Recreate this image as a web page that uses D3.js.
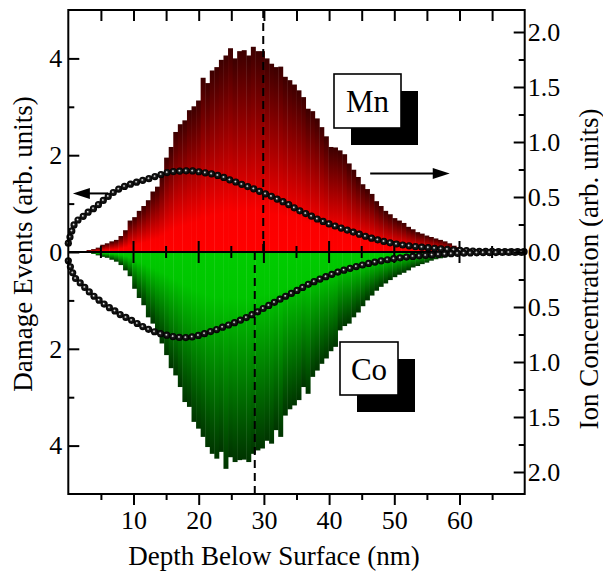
<!DOCTYPE html>
<html><head><meta charset="utf-8">
<script src="https://cdn.jsdelivr.net/npm/d3@7"></script>
<style>body{margin:0;background:#fff}svg{display:block}</style>
</head><body>
<svg id="chart" width="603" height="572"></svg>
<script>
// ---------- data ----------
const binWidth = 0.7; // nm per histogram bin (100 bins over 70 nm)
const mnDamage = [0,0,0,0.02,0.04,0.06,0.09,0.15,0.18,0.22,
  0.25,0.33,0.45,0.65,0.72,0.85,0.95,1.07,1.25,1.35,
  1.6,1.95,2.17,2.48,2.64,2.72,2.93,3.01,3.13,3.6,
  3.49,3.75,3.82,3.97,4.06,4.21,4.0,4.15,4.17,4.06,
  4.24,4.15,4.15,4.0,3.89,3.82,3.83,3.62,3.55,3.46,
  3.34,3.2,2.96,2.91,2.76,2.58,2.39,2.17,2.16,2.1,
  2.02,1.83,1.7,1.55,1.4,1.3,1.2,1.05,0.95,0.85,
  0.78,0.7,0.65,0.6,0.52,0.47,0.41,0.38,0.34,0.31,
  0.28,0.25,0.22,0.18,0.13,0.1,0.07,0.05,0.03,0.02,
  0.01,0,0,0,0,0,0,0,0,0];
const coDamage = [0,0,0,0,0.02,0.04,0.07,0.1,0.12,0.16,
  0.2,0.27,0.38,0.5,0.76,0.95,1.1,1.35,1.48,1.7,
  1.89,2.13,2.4,2.55,2.79,3.1,3.2,3.51,3.65,3.82,
  4.03,4.17,4.27,4.13,4.48,4.24,4.34,4.3,4.29,4.34,
  4.17,4.1,4.06,3.9,3.96,3.68,3.82,3.38,3.25,3.17,
  3.06,2.79,2.93,2.58,2.45,2.31,2.2,2.05,1.96,1.62,
  1.53,1.48,1.35,1.25,1.12,1.0,0.9,0.8,0.72,0.65,
  0.58,0.52,0.47,0.43,0.38,0.32,0.29,0.25,0.22,0.18,
  0.15,0.13,0.11,0.09,0.07,0.05,0.04,0.03,0.02,0.01,
  0,0,0,0,0,0,0,0,0,0];
const concDepth = [0,1,2,3,4,5,6,7,8,9,10,11,12,13,14,15,16,17,18,19,20,
  21,22,23,24,25,26,27,28,29,30,31,32,33,34,35,36,37,38,39,40,
  41,42,43,44,45,46,47,48,49,50,51,52,53,54,55,56,57,58,59,60,
  61,62,63,64,65,66,67,68,69,70];
const mnConc = [0.08,0.26,0.31,0.36,0.40,0.45,0.50,0.545,0.58,0.605,0.625,
  0.645,0.66,0.68,0.70,0.72,0.73,0.735,0.738,0.737,0.73,
  0.72,0.71,0.695,0.675,0.65,0.63,0.605,0.585,0.56,0.535,
  0.51,0.482,0.455,0.425,0.39,0.36,0.335,0.305,0.28,0.255,
  0.235,0.215,0.195,0.175,0.155,0.135,0.118,0.102,0.088,0.076,
  0.066,0.058,0.051,0.045,0.04,0.035,0.03,0.025,0.02,0.016,
  0.012,0.009,0.007,0.006,0.005,0.004,0.004,0.003,0.003,0.003];
const coConc = [0.08,0.23,0.29,0.35,0.405,0.45,0.495,0.53,0.57,0.60,0.63,
  0.665,0.695,0.72,0.74,0.755,0.768,0.776,0.778,0.772,0.758,
  0.74,0.72,0.70,0.675,0.655,0.63,0.605,0.575,0.545,0.51,
  0.478,0.445,0.412,0.383,0.352,0.32,0.288,0.262,0.236,0.213,
  0.19,0.17,0.152,0.135,0.12,0.105,0.092,0.08,0.07,0.06,
  0.052,0.045,0.039,0.034,0.03,0.026,0.022,0.018,0.015,0.012,
  0.01,0.008,0.007,0.006,0.005,0.005,0.004,0.004,0.004,0.004];
const xMajorTicks = [10,20,30,40,50,60];
const xMinorTicks = [5,15,25,35,45,55,65];
const xAllTicks = [5,10,15,20,25,30,35,40,45,50,55,60,65];
const leftMajorTicks = [-4,-2,0,2,4];
const leftMinorTicks = [-3,-1,1,3];
const rightMajorTicks = [-2,-1.5,-1,-0.5,0,0.5,1,1.5,2];
const rightMinorTicks = [-1.75,-1.25,-0.75,-0.25,0.25,0.75,1.25,1.75];
const meanDepths = {Mn: 29.9, Co: 28.6};
const elementLabels = ["Mn","Co"];
const xTitle = "Depth Below Surface (nm)";
const leftTitle = "Damage Events (arb. units)";
const rightTitle = "Ion Concentration (arb. units)";

// ---------- layout ----------
const L = 68.3, R = 524.7, T = 10, B = 494;
const FONT = '"Liberation Serif"';
const svg = d3.select("#chart");

const x = d3.scaleLinear().domain([0,70]).range([L,R]);
const yL = d3.scaleLinear().domain([-5,5]).range([B,T]);
const yR = d3.scaleLinear().domain([-2.2,2.2]).range([B,T]);

const defs = svg.append("defs");
const rg = defs.append("linearGradient").attr("id","redGrad").attr("x1",0).attr("y1",1).attr("x2",0).attr("y2",0);
rg.append("stop").attr("offset",0).attr("stop-color","#ff0000");
rg.append("stop").attr("offset",0.2).attr("stop-color","#fa0000");
rg.append("stop").attr("offset",1).attr("stop-color","#3c0000");
const gg = defs.append("linearGradient").attr("id","greenGrad").attr("x1",0).attr("y1",0).attr("x2",0).attr("y2",1);
gg.append("stop").attr("offset",0).attr("stop-color","#00cc00");
gg.append("stop").attr("offset",0.22).attr("stop-color","#00c600");
gg.append("stop").attr("offset",1).attr("stop-color","#003400");
const ball = defs.append("radialGradient").attr("id","ball").attr("cx","0.5").attr("cy","0.5").attr("r","0.5").attr("fx","0.42").attr("fy","0.42");
ball.append("stop").attr("offset",0).attr("stop-color","#ffffff");
ball.append("stop").attr("offset",0.15).attr("stop-color","#b0b0b0");
ball.append("stop").attr("offset",0.38).attr("stop-color","#1a1a1a");
ball.append("stop").attr("offset",1).attr("stop-color","#000000");

// ---------- bars ----------
const bw = i => x((i+1)*binWidth) - x(i*binWidth);
svg.append("g").selectAll("rect").data(mnDamage.map((v,i)=>({v,i})).filter(d=>d.v>0))
  .join("rect")
  .attr("x", d=>x(d.i*binWidth)).attr("width", d=>bw(d.i)+0.4)
  .attr("y", d=>yL(d.v)).attr("height", d=>yL(0)-yL(d.v))
  .attr("fill","url(#redGrad)");
svg.append("g").selectAll("rect").data(coDamage.map((v,i)=>({v,i})).filter(d=>d.v>0))
  .join("rect")
  .attr("x", d=>x(d.i*binWidth)).attr("width", d=>bw(d.i)+0.4)
  .attr("y", yL(0)).attr("height", d=>yL(-d.v)-yL(0))
  .attr("fill","url(#greenGrad)");

// ---------- zero line with ticks ----------
svg.append("line").attr("x1",L).attr("x2",R).attr("y1",yL(0)).attr("y2",yL(0))
  .attr("stroke","#000").attr("stroke-width",2.2);
svg.append("g").selectAll("line").data(xAllTicks).join("line")
  .attr("x1",d=>x(d)).attr("x2",d=>x(d))
  .attr("y1",d=>yL(0)-(d%10===0?11:6)).attr("y2",d=>yL(0)+(d%10===0?11:6))
  .attr("stroke","#000").attr("stroke-width",2);

// ---------- dashed mean-depth lines ----------
svg.append("line").attr("x1",x(meanDepths.Mn)).attr("x2",x(meanDepths.Mn))
  .attr("y1",T).attr("y2",yL(0)).attr("stroke","#000").attr("stroke-width",2).attr("stroke-dasharray","8,5");
svg.append("line").attr("x1",x(meanDepths.Co)).attr("x2",x(meanDepths.Co))
  .attr("y1",yL(0)).attr("y2",B).attr("stroke","#000").attr("stroke-width",2).attr("stroke-dasharray","8,5");

// ---------- ion concentration curves (ball markers along the line) ----------
function ballCurve(vals, sign){
  const pts = concDepth.map((d,i)=>[x(d), yR(sign*vals[i])]);
  const path = svg.append("path").attr("d", d3.line().curve(d3.curveMonotoneX)(pts))
    .attr("fill","none").attr("stroke","none");
  const node = path.node(), len = node.getTotalLength();
  const step = 6.4, dots = [];
  for(let s=0; s<=len; s+=step){ const p=node.getPointAtLength(s); dots.push([p.x,p.y]); }
  svg.append("g").selectAll("circle").data(dots).join("circle")
    .attr("cx",d=>d[0]).attr("cy",d=>d[1]).attr("r",3.6).attr("fill","url(#ball)");
}
ballCurve(mnConc, 1);
ballCurve(coConc, -1);

// ---------- axes ----------
const fmtL = d => d3.format("d")(Math.abs(d));
const fmtR = d => d3.format(".1f")(Math.abs(d));
function styleAxis(g){ g.attr("font-family",null).attr("font-size",null);
  g.select(".domain").remove(); g.selectAll("line").attr("stroke-width",2);
  g.selectAll("text").style("font-family",FONT).style("font-size","26px").attr("fill","#000"); }

svg.append("g").attr("transform",`translate(0,${B})`)
  .call(d3.axisBottom(x).tickValues(xMajorTicks).tickSize(11).tickPadding(6).tickFormat(d3.format("d"))).call(styleAxis);
svg.append("g").attr("transform",`translate(0,${B})`)
  .call(d3.axisBottom(x).tickValues(xMinorTicks).tickSize(6).tickFormat("")).call(styleAxis);
svg.append("g").attr("transform",`translate(0,${T})`)
  .call(d3.axisTop(x).tickValues(xAllTicks).tickSize(-11).tickFormat("")).call(styleAxis);
svg.append("g").attr("transform",`translate(${L},0)`)
  .call(d3.axisLeft(yL).tickValues(leftMajorTicks).tickSizeInner(-11).tickSizeOuter(0).tickPadding(6).tickFormat(fmtL)).call(styleAxis);
svg.append("g").attr("transform",`translate(${L},0)`)
  .call(d3.axisLeft(yL).tickValues(leftMinorTicks).tickSizeInner(-6).tickSizeOuter(0).tickFormat("")).call(styleAxis);
svg.append("g").attr("transform",`translate(${R},0)`)
  .call(d3.axisRight(yR).tickValues(rightMajorTicks).tickSizeInner(-11).tickSizeOuter(0).tickPadding(3).tickFormat(fmtR)).call(styleAxis);
svg.append("g").attr("transform",`translate(${R},0)`)
  .call(d3.axisRight(yR).tickValues(rightMinorTicks).tickSizeInner(-6).tickSizeOuter(0).tickFormat("")).call(styleAxis);

svg.append("rect").attr("x",L).attr("y",T).attr("width",R-L).attr("height",B-T)
  .attr("fill","none").attr("stroke","#000").attr("stroke-width",2);

// ---------- titles ----------
function title(sel){ return sel.style("font-family",FONT).style("font-size","27px").attr("fill","#000"); }
svg.append("text").attr("x",274).attr("y",565).attr("text-anchor","middle").call(title).text(xTitle);
svg.append("text").attr("transform","translate(32,244) rotate(-90)").attr("text-anchor","middle").call(title).text(leftTitle);
svg.append("text").attr("transform","translate(598,269) rotate(-90)").attr("text-anchor","middle").call(title).text(rightTitle);

// ---------- arrows ----------
function arrow(x1,x2,y){ // from x1 to tip x2
  const dir = Math.sign(x2-x1);
  svg.append("line").attr("x1",x1).attr("x2",x2-dir*10).attr("y1",y).attr("y2",y).attr("stroke","#000").attr("stroke-width",2);
  svg.append("path").attr("d",`M${x2},${y} L${x2-dir*17},${y-5.5} L${x2-dir*17},${y+5.5} Z`).attr("fill","#000");
}
arrow(x(6.1), x(0.7), yL(1.21));
arrow(x(46.3), x(58.5), yR(0.713));

// ---------- element label boxes ----------
function labelBox(txt, bx, by, w, h){
  svg.append("rect").attr("x",bx+17).attr("y",by+17).attr("width",w).attr("height",h).attr("fill","#000");
  svg.append("rect").attr("x",bx).attr("y",by).attr("width",w).attr("height",h).attr("fill","#fff")
    .attr("stroke","#000").attr("stroke-width",1.6);
  svg.append("text").attr("x",bx+w/2).attr("y",by+h/2+11).attr("text-anchor","middle")
    .style("font-family",FONT).style("font-size","31px").text(txt);
}
labelBox(elementLabels[0], 334, 74, 67, 54);
labelBox(elementLabels[1], 340, 342, 58, 53);
</script>
</body></html>
